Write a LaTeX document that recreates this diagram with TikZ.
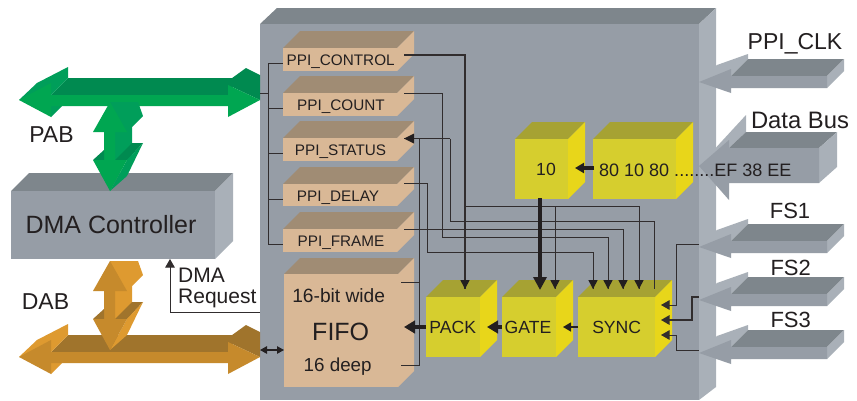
\documentclass[tikz,border=0pt]{standalone}
\usepackage{fontspec}
\setmainfont{Liberation Sans}
\usetikzlibrary{arrows.meta}
\definecolor{gfront}{HTML}{969DA6}\definecolor{gtop}{HTML}{7E868C}\definecolor{gside}{HTML}{A9B0B8}
\definecolor{tfront}{HTML}{D9B896}\definecolor{ttop}{HTML}{A08C74}
\definecolor{yfront}{HTML}{D6CE2E}\definecolor{ytop}{HTML}{A6A233}\definecolor{yside}{HTML}{E8D61A}
\definecolor{gnfront}{HTML}{00A651}\definecolor{gntop}{HTML}{008A50}\definecolor{gnside}{HTML}{009E5A}
\definecolor{ofront}{HTML}{C68A2C}\definecolor{otop}{HTML}{A0742C}\definecolor{oside}{HTML}{DE9A30}
\definecolor{inkc}{HTML}{231F20}
\tikzset{
  x=1pt,y=-1pt,
  wire/.style={draw=inkc!85!gray,line width=0.8pt,line join=miter},
  wirein/.style={wire,-{Triangle[length=8.5pt,width=9.5pt]}},
  med/.style={draw=inkc,line width=3.4pt,-{Triangle[length=11pt,width=12.5pt]}},
  medsm/.style={draw=inkc,line width=3.2pt,-{Triangle[length=9pt,width=10pt]}},
  small/.style={draw=inkc,line width=1.4pt,-{Triangle[length=8pt,width=9pt]}},
  dbl/.style={draw=inkc,line width=1.1pt,{Triangle[length=7pt,width=7.5pt]}-{Triangle[length=7pt,width=7.5pt]}},
  txt/.style={anchor=base,inner sep=0pt,text=inkc},
  regt/.style={txt,font=\fontsize{15.3}{17}\selectfont},
  blkt/.style={txt,font=\fontsize{17.6}{19}\selectfont},
  lblt/.style={txt,font=\fontsize{23}{25}\selectfont},
}
% name, x1,y1,x2,y2,depth, front,top,side
\newcommand{\cuboid}[9]{%
  \fill[#8] (#2,#3) -- (#2+#6,#3-#6) -- (#4+#6,#3-#6) -- (#4,#3) -- cycle;
  \fill[#9] (#4,#3) -- (#4+#6,#3-#6) -- (#4+#6,#5-#6) -- (#4,#5) -- cycle;
  \fill[#7] (#2,#3) rectangle (#4,#5);
  \coordinate (#1) at (#2,#3);
}
\newcommand{\hbus}[4]{%
 \begin{scope}[shift={(0,#1)}]
  \fill[#3] (51,95) -- (68,78) -- (237,78) -- (228,95) -- cycle;
  \fill[#4] (19,100) -- (37,83) -- (68,67) -- (68,78) -- (51,95) -- cycle;
  \fill[#4] (51,117) -- (62,106) -- (51,106) -- cycle;
  \fill[#3] (228,85) -- (228,81) -- (246,68) -- (260,75) -- (260,100) -- cycle;
  \fill[#2] (51,95) -- (228,95) -- (228,85) -- (260,100) -- (228,117) -- (228,106) -- (51,106) -- (51,117) -- (19,100) -- (51,83) -- cycle;
 \end{scope}}
\newcommand{\vbushi}[4]{%
 \begin{scope}[shift={(0,#1)}]
  \fill[#4] (110,102) -- (138,102) -- (143,116) -- (132,127) -- (132,160) -- (115,160) -- (115,132) -- cycle;
  \fill[#2] (110,102) -- (127,132) -- (115,132) -- (115,160) -- (104,160) -- (104,132) -- (93,132) -- cycle;
 \end{scope}}
\newcommand{\vbuslo}[4]{%
 \begin{scope}[shift={(0,#1)}]
  \fill[#3] (93,160) -- (104,150) -- (104,160) -- cycle;
  \fill[#3] (115,160) -- (132,143) -- (143,143) -- (127,160) -- cycle;
  \fill[#4] (110,191) -- (127,176) -- (143,143) -- (127,160) -- cycle;
  \fill[#2] (93,160) -- (127,160) -- (110,191) -- cycle;
 \end{scope}}
\newcommand{\inarrow}[1]{%
 \begin{scope}[shift={(0,#1)}]
  \fill[gside] (699,82) -- (717,65) -- (748,54) -- (748,59) -- (731,76) -- cycle;
  \fill[gtop] (731,76) -- (748,59) -- (844,59) -- (827,76) -- cycle;
  \fill[gside] (827,76) -- (844,59) -- (844,71) -- (827,88) -- cycle;
  \fill[gfront] (699,82) -- (731,69) -- (731,76) -- (827,76) -- (827,88) -- (731,88) -- (731,93) -- cycle;
 \end{scope}}
\begin{document}
\begin{tikzpicture}
\useasboundingbox (0,0) rectangle (857,400);
\fill[white] (0,0) rectangle (857,400);
% main PPI block
\fill[gtop] (260,24) -- (277,8) -- (716,8) -- (699,24) -- cycle;
\fill[gside] (699,24) -- (716,8) -- (716,387) -- (699,400) -- cycle;
\fill[gfront] (260,24) rectangle (699,400);
% right input arrows
\inarrow{0}\inarrow{165}\inarrow{218}\inarrow{271}
% data bus arrow
\fill[gside] (699,166) -- (746,115) -- (746,132) -- (729,148) -- cycle;
\fill[gtop] (729,148) -- (746,132) -- (837,132) -- (819,148) -- cycle;
\fill[gside] (819,148) -- (837,132) -- (837,167) -- (819,183) -- cycle;
\fill[gfront] (699,166) -- (729,140) -- (729,148) -- (819,148) -- (819,183) -- (729,183) -- (729,200) -- cycle;
% buses
\hbus{0}{gnfront}{gntop}{gnside}
\vbushi{159}{ofront}{otop}{oside}
\hbus{257}{ofront}{otop}{oside}
\vbuslo{159}{ofront}{otop}{oside}
% DMA controller
\cuboid{dma}{11}{191}{215}{259}{18}{gfront}{gtop}{gside}
\vbushi{0}{gnfront}{gntop}{gnside}
\vbuslo{0}{gnfront}{gntop}{gnside}
% registers
\cuboid{rctl}{283}{48}{397}{71}{17}{tfront}{ttop}{tfront}
\cuboid{rcnt}{283}{93}{397}{116}{17}{tfront}{ttop}{tfront}
\cuboid{rsta}{283}{138}{397}{161}{17}{tfront}{ttop}{tfront}
\cuboid{rdel}{283}{184}{397}{206}{17}{tfront}{ttop}{tfront}
\cuboid{rfrm}{283}{229}{397}{252}{17}{tfront}{ttop}{tfront}
\cuboid{fifo}{284}{274}{398}{387}{16}{tfront}{ttop}{tfront}
% yellow blocks
\cuboid{b10}{515}{139}{568}{199}{17}{yfront}{ytop}{yside}
\cuboid{b80}{593}{139}{676}{199}{17}{yfront}{ytop}{yside}
\cuboid{pack}{426}{297}{480}{357}{17}{yfront}{ytop}{yside}
\cuboid{gate}{502}{297}{556}{357}{17}{yfront}{ytop}{yside}
\cuboid{sync}{578}{297}{655}{357}{17}{yfront}{ytop}{yside}
% ports
\coordinate (ctlin) at (283,63); \coordinate (cntin) at (283,108);
\coordinate (stain) at (283,153.5); \coordinate (delin) at (283,199);
\coordinate (frmin) at (283,244); \coordinate (bustop) at (268,63);
\coordinate (busbot) at (268,244); \coordinate (busstub) at (260,93);
\coordinate (busj) at (268,93);
\coordinate (ctlout) at (404,55); \coordinate (cntout) at (404,93);
\coordinate (stain2) at (404,138.5); \coordinate (delout) at (404,183);
\coordinate (frmout) at (404,229);
\coordinate (packin) at (465,289); \coordinate (gatein) at (555,289);
\coordinate (gateheavy) at (540,290); \coordinate (syncA) at (593,289);
\coordinate (syncB) at (608,289); \coordinate (syncC) at (623,289);
\coordinate (syncD) at (639,289); \coordinate (syncout) at (654,289);
\coordinate (ctlbranch) at (465,206); \coordinate (f16a) at (401,282);
\coordinate (f16b) at (401,365); \coordinate (stajoin) at (419,138.5);
\coordinate (stabus) at (450,138.5);
\coordinate (fs1o) at (699,244); \coordinate (fs2o) at (699,297); \coordinate (fs3o) at (699,350);
\coordinate (sync1) at (661,305); \coordinate (sync2) at (661,320); \coordinate (sync3) at (661,335);
\coordinate (dmareqs) at (260,312); \coordinate (dmareqe) at (170,259);
\coordinate (fifol) at (284,350); \coordinate (fifobus) at (260,350);
\coordinate (b10bot) at (540,198); \coordinate (b80l) at (594,168); \coordinate (b10r) at (575,168);
\coordinate (packl) at (426,327); \coordinate (fifor) at (404,327);
\coordinate (gatel) at (502,327); \coordinate (packr) at (487,327);
\coordinate (syncl) at (578,327); \coordinate (gater) at (563,327);
% left register bus
\draw[wire] (bustop) -- (busbot);
\draw[wire] (bustop) -- (ctlin);
\draw[wire] (268,108) -- (cntin);
\draw[wire] (268,153.5) -- (stain);
\draw[wire] (268,199) -- (delin);
\draw[wire] (busbot) -- (frmin);
\draw[wire] (busstub) -- (busj);
% register to block wires
\draw[wire] (delout) -| (427,252) -| (syncA);
\draw[wire] (cntout) -| (442,237) -| (syncB);
\draw[wire] (frmout) -| (syncC);
\draw[wire] (stabus) |- (654,221.7) -- (syncout);
\draw[wire,line width=1.1pt] (stain2) -- (stabus);
\draw[wire] (stajoin) |- (f16b);
\draw[wire] (419,282) -- (f16a);
\draw[wire,line width=1.1pt] (ctlout) -| (packin);
\draw[wire] (ctlbranch) -| (syncD);
\draw[wire] (555,206) -- (gatein);
% arrowheads for the wires
\foreach \p in {syncA,syncB,syncC,syncD,gatein,packin}{
  \fill[inkc] (\p) ++(-4.7,-9) -- ++(9.4,0) -- ++(-4.7,9) -- cycle;}
\fill[inkc] (stain2) -- ++(10,-5) -- ++(0,10) -- cycle;
\draw[wirein] (fs1o) -| (676,305) -- (sync1);
\draw[wirein,line width=1.3pt] (fs2o) -| (692,320) -- (sync2);
\draw[wirein] (fs3o) -| (676,335) -- (sync3);
\draw[wirein] (dmareqs) -| (dmareqe);
\draw[dbl] (fifobus) -- (fifol);
% thick flow arrows
\draw[draw=inkc,line width=4.6pt,-{Triangle[length=13pt,width=13pt]}] (b10bot) -- (gateheavy);
\draw[medsm] (b80l) -- (b10r);
\draw[med] (packl) -- (fifor);
\draw[med] (gatel) -- (packr);
\draw[small] (syncl) -- (gater);
% labels
\node[lblt] (lpab) at (51.5,142.5) {PAB};
\node[lblt] (ldab) at (45.5,309) {DAB};
\node[txt,font=\fontsize{25}{27}\selectfont] (ldma) at (111,233) {DMA Controller};
\node[txt,anchor=base west,font=\fontsize{21}{24}\selectfont] (lreq1) at (178,282) {DMA};
\node[txt,anchor=base west,font=\fontsize{21}{24}\selectfont] (lreq2) at (178,303) {Request};
\node[regt] (tctl) at (340.7,65) {PPI\_CONTROL};
\node[regt] (tcnt) at (341,110) {PPI\_COUNT};
\node[regt] (tsta) at (340.5,155.6) {PPI\_STATUS};
\node[regt] (tdel) at (338,201) {PPI\_DELAY};
\node[regt] (tfrm) at (341,246) {PPI\_FRAME};
\node[txt,font=\fontsize{19.2}{21}\selectfont] (tf1) at (338.7,302.7) {16-bit wide};
\node[txt,font=\fontsize{25}{27}\selectfont] (tf2) at (340.7,340.7) {FIFO};
\node[txt,font=\fontsize{18.8}{21}\selectfont] (tf3) at (337.7,371) {16 deep};
\node[blkt] (t10) at (546,175.7) {10};
\node[txt,anchor=base west,font=\fontsize{18}{19}\selectfont] (t80) at (599,176) {80 10 80\hspace{5pt}........EF 38 EE};
\node[blkt] (tpack) at (452.7,333.7) {PACK};
\node[blkt] (tgate) at (528,333.7) {GATE};
\node[blkt] (tsync) at (616.7,333.7) {SYNC};
\node[txt,font=\fontsize{23}{25}\selectfont] (tclk) at (795,49) {PPI\_CLK};
\node[txt,font=\fontsize{23.8}{26}\selectfont] (tdb) at (800,128) {Data Bus};
\node[txt,font=\fontsize{22}{24}\selectfont] (tfs1) at (790,218) {FS1};
\node[txt,font=\fontsize{22}{24}\selectfont] (tfs2) at (790.7,275) {FS2};
\node[txt,font=\fontsize{22}{24}\selectfont] (tfs3) at (790.7,327) {FS3};
\end{tikzpicture}
\end{document}
